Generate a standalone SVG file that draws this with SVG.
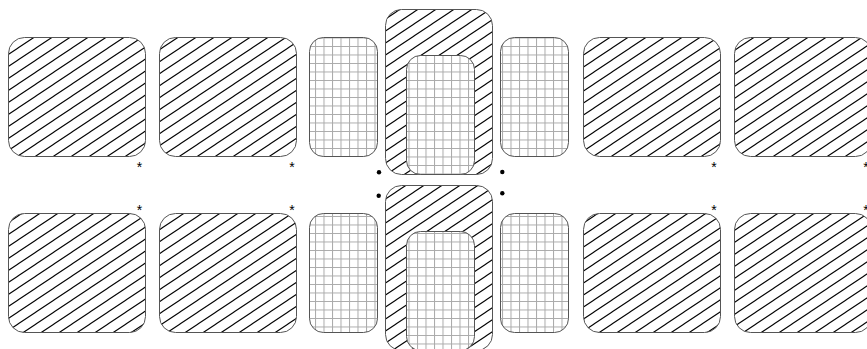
<svg xmlns="http://www.w3.org/2000/svg" width="867" height="349" viewBox="0 0 867 349">
  <style>
    .box { stroke: #555; stroke-width: 1; }
    .hatch { fill: url(#hatch); }
    .grid { fill: url(#grid); }
    .star { font-family: "Liberation Sans", Arial, sans-serif; font-size: 14px; fill: #000; text-anchor: middle; }
    .dot { fill: #000; }
  </style>
  <defs>
    <pattern id="hatch" patternUnits="userSpaceOnUse" x="0" y="0" width="18" height="12">
      <rect width="18" height="12" fill="#fff"/>
      <path d="M-1 12.667 L19 -0.667 M17 12.667 L37 -0.667 M-19 12.667 L1 -0.667" stroke="#000" stroke-width="1.1" fill="none"/>
    </pattern>
    <pattern id="grid" patternUnits="userSpaceOnUse" x="306.5" y="37.5" width="8.5" height="8.5">
      <rect width="8.5" height="8.5" fill="#fff"/>
      <path d="M0 0.5 H8.5 M0.5 0 V8.5" stroke="#aaa" stroke-width="1" fill="none"/>
    </pattern>
  </defs>
  <rect width="867" height="349" fill="#fff"/>

  <!-- top row -->
  <g id="t1"><rect class="box hatch" x="8.5" y="37.5" width="137" height="119" rx="16"/></g>
  <g id="t2"><rect class="box hatch" x="159.5" y="37.5" width="137" height="119" rx="16"/></g>
  <g id="t3"><rect class="box grid" x="309.5" y="37.5" width="68" height="119" rx="14"/></g>
  <g id="t4">
    <rect class="box hatch" x="385.5" y="9.5" width="107" height="165" rx="16"/>
    <g id="t4i"><rect class="box grid" x="406.5" y="55.5" width="68" height="119" rx="14"/></g>
  </g>
  <g id="t5"><rect class="box grid" x="500.5" y="37.5" width="68" height="119" rx="14"/></g>
  <g id="t6"><rect class="box hatch" x="583.5" y="37.5" width="137" height="119" rx="16"/></g>
  <g id="t7"><rect class="box hatch" x="734.5" y="37.5" width="137" height="119" rx="16"/></g>

  <!-- bottom row -->
  <g id="b1"><rect class="box hatch" x="8.5" y="213.5" width="137" height="119" rx="16"/></g>
  <g id="b2"><rect class="box hatch" x="159.5" y="213.5" width="137" height="119" rx="16"/></g>
  <g id="b3"><rect class="box grid" x="309.5" y="213.5" width="68" height="119" rx="14"/></g>
  <g id="b4">
    <rect class="box hatch" x="385.5" y="185.5" width="107" height="165" rx="16"/>
    <g id="b4i"><rect class="box grid" x="406.5" y="231.5" width="68" height="119" rx="14"/></g>
  </g>
  <g id="b5"><rect class="box grid" x="500.5" y="213.5" width="68" height="119" rx="14"/></g>
  <g id="b6"><rect class="box hatch" x="583.5" y="213.5" width="137" height="119" rx="16"/></g>
  <g id="b7"><rect class="box hatch" x="734.5" y="213.5" width="137" height="119" rx="16"/></g>

  <g id="connectors"></g>

  <!-- markers -->
  <g id="stars">
    <text class="star" x="139.5" y="171.5">*</text>
    <text class="star" x="292" y="171.5">*</text>
    <text class="star" x="714" y="171.5">*</text>
    <text class="star" x="866" y="171.5">*</text>
    <text class="star" x="139.5" y="214.5">*</text>
    <text class="star" x="292" y="214.5">*</text>
    <text class="star" x="714" y="214.5">*</text>
    <text class="star" x="866" y="214.5">*</text>
  </g>
  <g id="dots">
    <circle class="dot" cx="379" cy="172.3" r="2.2"/>
    <circle class="dot" cx="502.3" cy="172" r="2.2"/>
    <circle class="dot" cx="378.7" cy="195.7" r="2.2"/>
    <circle class="dot" cx="502.3" cy="193.3" r="2.2"/>
  </g>
</svg>
